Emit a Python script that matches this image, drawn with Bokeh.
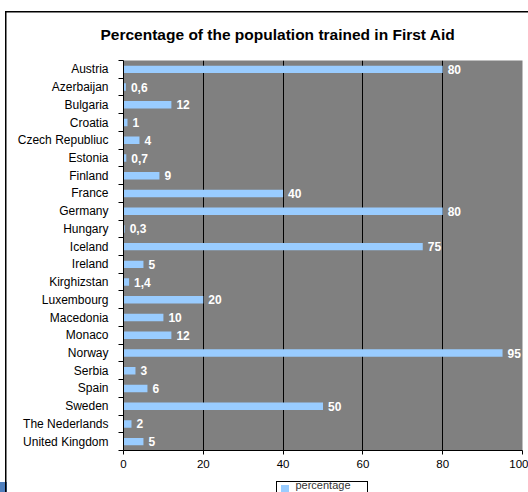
from bokeh.plotting import figure
from bokeh.models import ColumnDataSource, FixedTicker, Range1d
from bokeh.core.properties import value
from bokeh.embed import file_html
from bokeh.resources import INLINE

countries = ["Austria", "Azerbaijan", "Bulgaria", "Croatia", "Czech Republiuc", "Estonia",
             "Finland", "France", "Germany", "Hungary", "Iceland", "Ireland", "Kirghizstan",
             "Luxembourg", "Macedonia", "Monaco", "Norway", "Serbia", "Spain", "Sweden",
             "The Nederlands", "United Kingdom"]
percentage = [80, 0.6, 12, 1, 4, 0.7, 9, 40, 80, 0.3, 75, 5, 1.4, 20, 10, 12, 95, 3, 6, 50, 2, 5]
value_labels = ["80", "0,6", "12", "1", "4", "0,7", "9", "40", "80", "0,3", "75", "5", "1,4",
                "20", "10", "12", "95", "3", "6", "50", "2", "5"]
x_ticks = [0, 20, 40, 60, 80, 100]
grid_ticks = [20, 40, 60, 80]
title_text = "Percentage of the population trained in First Aid"
series_name = "percentage"

n = len(countries)
ypos = [n - 1 - i for i in range(n)]

src = ColumnDataSource(dict(y=ypos, v=percentage, lab=value_labels, name=countries))

FONT = "Liberation Sans"
FL, FR, FT, FB = 123, 6, 60, 0
p = figure(frame_width=399, frame_height=390, output_backend="svg", toolbar_location=None,
           x_range=Range1d(0, 100), y_range=Range1d(-0.5, n - 0.5),
           min_border_left=FL, min_border_right=FR, min_border_top=FT, min_border_bottom=FB)
p.background_fill_color = "#808080"
p.border_fill_color = None
p.outline_line_color = None
# chart border lines, legend box/key and slide decoration drawn as the page background
p.styles = {
    "background": ("linear-gradient(#000,#000) 5px 11px / 1.5px 100% no-repeat, "
                   "linear-gradient(#000,#000) 5px 11px / 100% 1.5px no-repeat, "
                   "linear-gradient(#000,#000) 276px 481px / 92px 1px no-repeat, "
                   "linear-gradient(#000,#000) 276px 481px / 1px 20px no-repeat, "
                   "linear-gradient(#000,#000) 367px 481px / 1px 20px no-repeat, "
                   "linear-gradient(#99CCFF,#99CCFF) 281px 485px / 8px 8px no-repeat, "
                   "linear-gradient(#4F7FBD,#4F7FBD) 0px 482px / 7px 10px no-repeat, "
                   "#ffffff")
}

bars = p.hbar(y="y", right="v", left=0, height=0.42, source=src,
              fill_color="#99CCFF", line_color=None)
p.text(x="v", y="y", text="lab", source=src, x_offset=5, text_baseline="middle",
       text_align="left", text_color="white", text_font=value(FONT),
       text_font_size="12px", text_font_style="bold")

# title
p.title.text = title_text
p.title.align = "left"
p.title.offset = -23
p.title.text_font = FONT
p.title.text_font_size = "15.5px"
p.title.text_font_style = "bold"
p.title.text_color = "black"
p.title.standoff = 36

# x axis (its label serves as the legend text)
p.xaxis.ticker = FixedTicker(ticks=x_ticks)
p.xaxis.major_tick_out = 4
p.xaxis.major_tick_in = 0
p.xaxis.minor_tick_line_color = None
p.xaxis.axis_line_color = "black"
p.xaxis.major_label_text_font = FONT
p.xaxis.major_label_text_font_size = "11.5px"
p.xaxis.major_label_text_color = "black"
p.xaxis.major_label_standoff = 5
p.xaxis.axis_label = series_name
p.xaxis.axis_label_text_font = FONT
p.xaxis.axis_label_text_font_size = "11px"
p.xaxis.axis_label_text_font_style = "normal"
p.xaxis.axis_label_text_color = "#333333"
p.xaxis.axis_label_standoff = 8

# y axis
p.yaxis.ticker = FixedTicker(ticks=ypos, minor_ticks=[k - 0.5 for k in range(n + 1)])
p.yaxis.major_label_overrides = {y: c for y, c in zip(ypos, countries)}
p.yaxis.major_tick_out = 0
p.yaxis.major_tick_in = 0
p.yaxis.minor_tick_out = 5
p.yaxis.minor_tick_in = 0
p.yaxis.minor_tick_line_color = "black"
p.yaxis.axis_line_color = "black"
p.yaxis.major_label_text_font = FONT
p.yaxis.major_label_text_font_size = "12px"
p.yaxis.major_label_text_color = "black"
p.yaxis.major_label_standoff = 10

p.xgrid.ticker = FixedTicker(ticks=grid_ticks)
p.xgrid.grid_line_color = "black"
p.xgrid.grid_line_width = 1
p.ygrid.grid_line_color = None

open("out.html", "w").write(file_html(p, INLINE))
